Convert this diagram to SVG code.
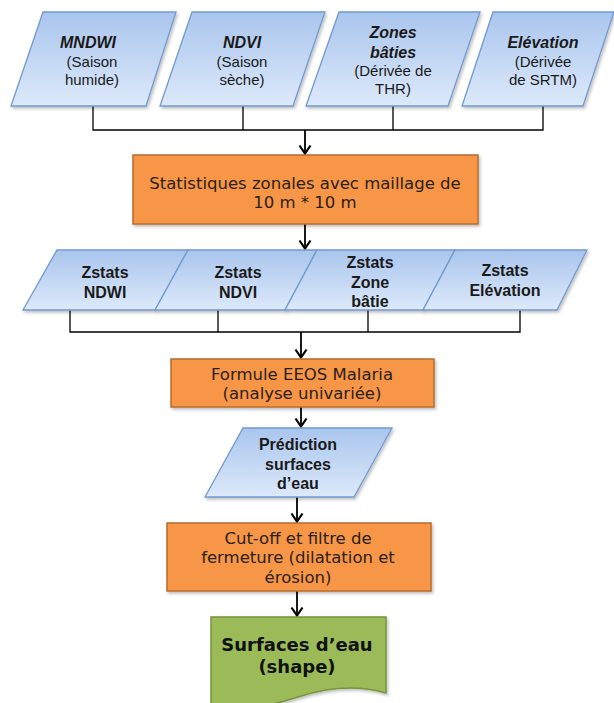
<svg xmlns="http://www.w3.org/2000/svg" width="614" height="703" viewBox="0 0 614 703">
<defs>
<linearGradient id="blueGrad" x1="0" y1="0" x2="0" y2="1">
<stop offset="0" stop-color="#a9c5ed"/>
<stop offset="1" stop-color="#dde9fa"/>
</linearGradient>
<filter id="shadow" x="-10%" y="-10%" width="130%" height="130%">
<feDropShadow dx="1.5" dy="2" stdDeviation="1.5" flood-color="#000" flood-opacity="0.25"/>
</filter>
<marker id="arrow" viewBox="0 0 14 14" refX="12.5" refY="7" markerWidth="14" markerHeight="14" markerUnits="userSpaceOnUse" orient="auto">
<path d="M4,1.5 L12,7 L4,12.5" fill="none" stroke="#000" stroke-width="2.2"/>
</marker>
</defs>
<style>
.para{fill:url(#blueGrad);stroke:#6f9ad1;stroke-width:1.3;filter:url(#shadow)}
.proc{fill:#f79646;stroke:#b86b2e;stroke-width:1.5;filter:url(#shadow)}
.doc{fill:#9bbb59;stroke:#76943b;stroke-width:1.5;filter:url(#shadow)}
.t{font-family:"Liberation Sans",Arial,sans-serif;fill:#1a1a1a;text-anchor:middle}
.tb{font-family:"Liberation Sans",Arial,sans-serif;fill:#1a1a1a;text-anchor:middle;font-weight:bold}
.tbi{font-family:"Liberation Sans",Arial,sans-serif;fill:#1a1a1a;text-anchor:middle;font-weight:bold;font-style:italic}
.v{font-family:"DejaVu Sans",Verdana,sans-serif;fill:#2b2118;text-anchor:middle}
.vb{font-family:"DejaVu Sans",Verdana,sans-serif;fill:#111;text-anchor:middle;font-weight:bold}
.c{fill:none;stroke:#000;stroke-width:1.3}
.ca{fill:none;stroke:#000;stroke-width:1.8;marker-end:url(#arrow)}
</style>

<g id="connectors">
<polyline class="c" points="93,106 93,130 543,130 543,106"/>
<line class="c" x1="243" y1="106" x2="243" y2="130"/>
<line class="c" x1="393" y1="106" x2="393" y2="130"/>
<line class="ca" x1="305" y1="130" x2="305" y2="154"/>
<line class="ca" x1="305" y1="224" x2="305" y2="249"/>
<polyline class="c" points="70,310 70,332 520,332 520,310"/>
<line class="c" x1="218" y1="310" x2="218" y2="332"/>
<line class="c" x1="368" y1="310" x2="368" y2="332"/>
<line class="ca" x1="301" y1="332" x2="301" y2="358"/>
<line class="ca" x1="301" y1="407" x2="301" y2="427"/>
<line class="ca" x1="297" y1="497" x2="297" y2="522"/>
<line class="ca" x1="297" y1="591" x2="297" y2="616"/>
</g>

<g id="n-mndwi">
<polygon class="para" points="43,12 176,12 146,106 11,106"/>
<text class="tbi" x="88" y="48" font-size="16">MNDWI</text>
<text class="t" x="92" y="67" font-size="15">(Saison</text>
<text class="t" x="92" y="85" font-size="15">humide)</text>
</g>
<g id="n-ndvi">
<polygon class="para" points="192,12 325,12 293,106 160,106"/>
<text class="tbi" x="242" y="48" font-size="16">NDVI</text>
<text class="t" x="242" y="67" font-size="15">(Saison</text>
<text class="t" x="242" y="85" font-size="15">sèche)</text>
</g>
<g id="n-zones">
<polygon class="para" points="339,12 480,12 448,106 306,106"/>
<text class="tbi" x="393" y="38" font-size="16">Zones</text>
<text class="tbi" x="393" y="58" font-size="16">bâties</text>
<text class="t" x="393" y="76" font-size="15">(Dérivée de</text>
<text class="t" x="393" y="94" font-size="15">THR)</text>
</g>
<g id="n-elev">
<polygon class="para" points="493,12 614,12 583,106 462,106"/>
<text class="tbi" x="543" y="48" font-size="16">Elévation</text>
<text class="t" x="543" y="67" font-size="15">(Dérivée</text>
<text class="t" x="543" y="85" font-size="15">de SRTM)</text>
</g>

<g id="n-stats">
<rect class="proc" x="133" y="155" width="345" height="69"/>
<text class="v" x="305" y="189" font-size="16.5">Statistiques zonales avec maillage de</text>
<text class="v" x="305" y="208" font-size="16.5">10 m * 10 m</text>
</g>

<g id="n-zndwi">
<polygon class="para" points="57,250 188,250 155,310 23,310"/>
<text class="tb" x="105" y="278" font-size="16">Zstats</text>
<text class="tb" x="105" y="298" font-size="16">NDWI</text>
</g>
<g id="n-zndvi">
<polygon class="para" points="188,250 317,250 285,310 155,310"/>
<text class="tb" x="238" y="278" font-size="16">Zstats</text>
<text class="tb" x="238" y="298" font-size="16">NDVI</text>
</g>
<g id="n-zbatie">
<polygon class="para" points="317,250 455,250 423,310 285,310"/>
<text class="tb" x="370" y="268" font-size="16">Zstats</text>
<text class="tb" x="370" y="288" font-size="16">Zone</text>
<text class="tb" x="370" y="307" font-size="16">bâtie</text>
</g>
<g id="n-zelev">
<polygon class="para" points="455,250 587,250 557,310 423,310"/>
<text class="tb" x="505" y="276" font-size="16">Zstats</text>
<text class="tb" x="505" y="296" font-size="16">Elévation</text>
</g>

<g id="n-formule">
<rect class="proc" x="171" y="359" width="263" height="48"/>
<text class="v" x="302" y="380" font-size="16.5">Formule EEOS Malaria</text>
<text class="v" x="302" y="399" font-size="16.5">(analyse univariée)</text>
</g>

<g id="n-prediction">
<polygon class="para" points="243,428 392,428 354,497 205,497"/>
<text class="tb" x="298" y="450" font-size="16">Prédiction</text>
<text class="tb" x="298" y="470" font-size="16">surfaces</text>
<text class="tb" x="298" y="489" font-size="16">d’eau</text>
</g>

<g id="n-cutoff">
<rect class="proc" x="167" y="523" width="264" height="68"/>
<text class="v" x="298" y="544" font-size="16.5">Cut-off et filtre de</text>
<text class="v" x="298" y="563" font-size="16.5">fermeture (dilatation et</text>
<text class="v" x="298" y="583" font-size="16.5">érosion)</text>
</g>

<g id="n-surfaces">
<path class="doc" d="M211,617 H386 V693 C355,684 325,688 298,697 C270,706 240,712 211,712 Z"/>
<text class="vb" x="297" y="651" font-size="18">Surfaces d’eau</text>
<text class="vb" x="297" y="673" font-size="18">(shape)</text>
</g>
</svg>
